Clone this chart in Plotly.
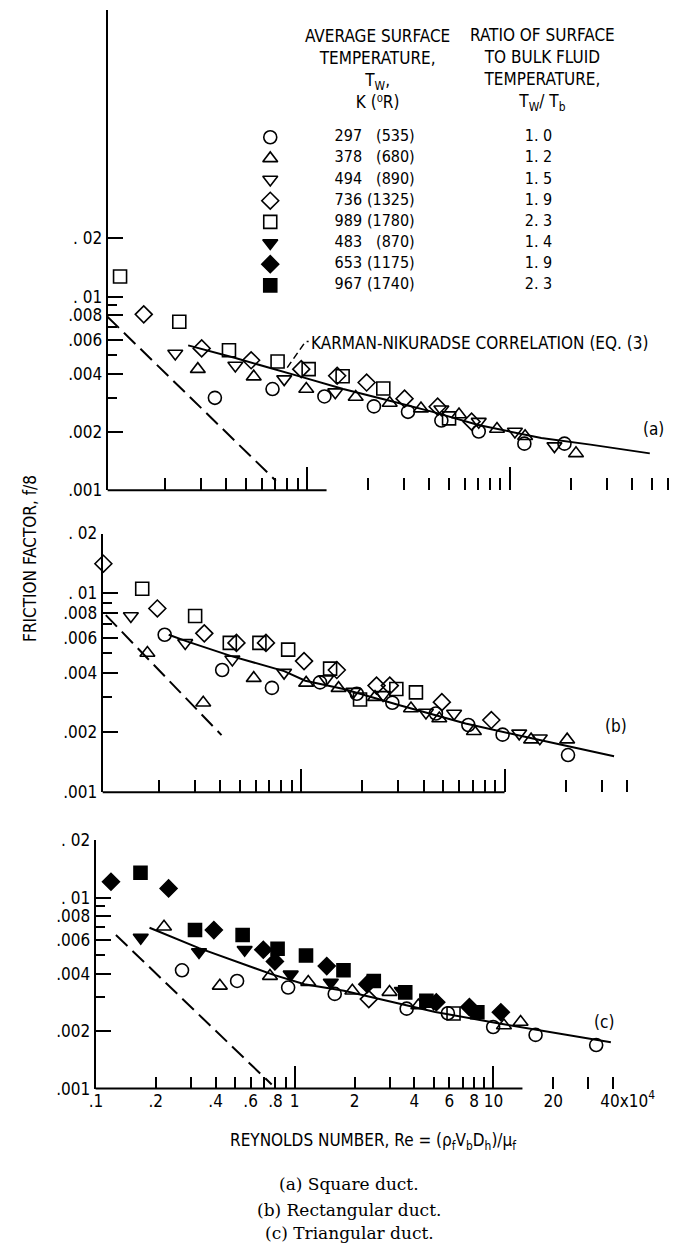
import math
import plotly.graph_objects as go

W, H = 677, 1257
SANS = "Liberation Sans Narrow, DejaVu Sans Condensed, Roboto Condensed, Arial Narrow, sans-serif"
SERIF = "DejaVu Serif, Liberation Serif, serif"
FS = 17

# ---------------- legend table ----------------
temps_K = ["297", "378", "494", "736", "989", "483", "653", "967"]
temps_R = ["(535)", "(680)", "(890)", "(1325)", "(1780)", "(870)", "(1175)", "(1740)"]
ratios = ["1. 0", "1. 2", "1. 5", "1. 9", "2. 3", "1. 4", "1. 9", "2. 3"]
symbols = ["circle-open", "triangle-up-open", "triangle-down-open", "diamond-open",
           "square-open", "triangle-down", "diamond", "square"]

# ---------------- panel (a) square duct ----------------
a_x_297 = [0.352, 0.677, 1.22, 2.14, 3.15, 4.6, 7.03, 11.8, 18.6]
a_y_297 = [0.0030, 0.00333, 0.00305, 0.00271, 0.00254, 0.00229, 0.00201, 0.00174, 0.00174]
a_x_378 = [0.29, 0.547, 0.993, 1.74, 2.56, 3.65, 5.62, 8.65, 11.9, 21.2]
a_y_378 = [0.00422, 0.00386, 0.00333, 0.00303, 0.00282, 0.00264, 0.00246, 0.00207, 0.0019, 0.00155]
a_x_494 = [0.2245, 0.444, 0.773, 1.38, 4.6, 7.03, 10.6, 16.6]
a_y_494 = [0.00508, 0.00441, 0.00375, 0.00321, 0.00262, 0.00226, 0.00201, 0.00169]
a_x_736 = [0.157, 0.303, 0.531, 0.938, 1.41, 1.97, 3.03, 4.41, 6.48]
a_y_736 = [0.0081, 0.0054, 0.00469, 0.00422, 0.0039, 0.0036, 0.00297, 0.0027, 0.00226]
a_x_989 = [0.120, 0.235, 0.413, 0.717, 1.02, 1.50, 2.38, 5.02]
a_y_989 = [0.0127, 0.00741, 0.00528, 0.00462, 0.00422, 0.00388, 0.00335, 0.00235]
a_curve_x = [0.26, 0.44, 0.93, 1.51, 2.56, 4.17, 7.0, 14.3, 25, 49]
a_curve_y = [0.0056, 0.00483, 0.00386, 0.00333, 0.0029, 0.00254, 0.00217, 0.00186, 0.00172, 0.00155]
a_dash_x = [0.104, 0.703]
a_dash_y = [0.00787, 0.00112]
a_leader_x = [0.80, 0.986, 1.02]
a_leader_y = [0.0043, 0.00587, 0.00587]

# ---------------- panel (b) rectangular duct ----------------
b_x_297 = [0.214, 0.41, 0.72, 1.24, 1.88, 2.81, 4.6, 6.64, 9.78, 20.5]
b_y_297 = [0.0062, 0.00412, 0.00335, 0.00357, 0.00313, 0.00282, 0.00249, 0.00218, 0.00195, 0.00154]
b_x_378 = [0.176, 0.331, 0.586, 1.06, 1.53, 2.31, 3.47, 4.78, 7.07, 13.5, 20.3]
b_y_378 = [0.00502, 0.00282, 0.00375, 0.00355, 0.00334, 0.00301, 0.00264, 0.00235, 0.00203, 0.00184, 0.00184]
b_x_494 = [0.146, 0.27, 0.46, 0.826, 1.33, 1.81, 2.53, 4.11, 5.65, 11.8, 14.9]
b_y_494 = [0.0077, 0.00564, 0.00466, 0.0040, 0.00371, 0.00321, 0.00309, 0.00252, 0.00249, 0.00198, 0.00187]
b_x_736 = [0.107, 0.197, 0.335, 0.482, 0.673, 1.035, 1.50, 2.35, 2.73, 4.92, 8.61]
b_y_736 = [0.0141, 0.0084, 0.0063, 0.00564, 0.00564, 0.00457, 0.00412, 0.00344, 0.00344, 0.00284, 0.00231]
b_x_989 = [0.166, 0.302, 0.447, 0.625, 0.865, 1.39, 1.95, 2.94, 3.67]
b_y_989 = [0.01055, 0.0077, 0.00564, 0.00564, 0.00522, 0.00419, 0.00293, 0.00331, 0.00318]
b_curve_x = [0.224, 0.275, 0.455, 0.826, 1.05, 1.62, 3.05, 6.43, 13.6, 34.5]
b_curve_y = [0.0062, 0.00574, 0.00484, 0.00407, 0.00364, 0.00331, 0.00274, 0.00222, 0.00187, 0.00152]
b_dash_x = [0.110, 0.407]
b_dash_y = [0.00778, 0.00194]

# ---------------- panel (c) triangular duct ----------------
c_x_297 = [0.271, 0.513, 0.927, 1.59, 3.66, 5.9, 9.97, 16.3, 32.9]
c_y_297 = [0.00416, 0.00366, 0.00338, 0.00313, 0.00262, 0.00248, 0.0021, 0.00191, 0.00169]
c_x_378 = [0.22, 0.42, 0.751, 1.17, 1.95, 3.0, 4.19, 11.3, 13.7]
c_y_378 = [0.00703, 0.00345, 0.00388, 0.00361, 0.00325, 0.0032, 0.00272, 0.00214, 0.00223]
c_x_736 = [2.36]
c_y_736 = [0.00294]
c_x_989 = [6.3]
c_y_989 = [0.00247]
c_x_483 = [0.168, 0.33, 0.56, 0.955, 1.52, 3.46, 5.0]
c_y_483 = [0.00617, 0.00519, 0.00533, 0.00396, 0.00359, 0.00325, 0.0028]
c_x_653 = [0.119, 0.232, 0.392, 0.695, 0.795, 1.45, 2.32, 5.16, 7.57, 10.9]
c_y_653 = [0.0121, 0.01117, 0.00676, 0.00533, 0.00463, 0.00438, 0.00352, 0.00283, 0.00267, 0.00251]
c_x_967 = [0.1675, 0.315, 0.547, 0.82, 1.14, 1.76, 2.5, 3.6, 4.6, 8.3]
c_y_967 = [0.0135, 0.00676, 0.00637, 0.0054, 0.00497, 0.00416, 0.00366, 0.00319, 0.00288, 0.00251]
c_curve_x = [0.186, 0.33, 0.77, 1.12, 1.77, 3.4, 5.1, 10.7, 39]
c_curve_y = [0.00695, 0.00544, 0.00396, 0.00352, 0.00325, 0.00277, 0.00252, 0.00219, 0.00175]
c_dash_x = [0.126, 0.766]
c_dash_y = [0.00637, 0.00105]

# ---------------- axis ticks ----------------
y_tick_vals = [0.001, 0.002, 0.004, 0.006, 0.008, 0.01, 0.02]
y_tick_text = [".001", ".002", ".004", ".006", ".008", ". 01", ". 02"]
y_minor_vals = [0.003, 0.005, 0.007, 0.009]
x_major_vals = [1, 10]
x_minor_a = [0.2, 0.3, 0.4, 0.5, 0.6, 0.7, 0.8, 0.9, 2, 3, 4, 5, 6, 7, 8, 9, 20, 30, 40, 50, 60]
x_minor_b = [0.2, 0.3, 0.4, 0.5, 0.6, 0.7, 0.8, 0.9, 2, 3, 4, 5, 6, 7, 8, 9, 20, 30, 40]
x_label_vals_c = [0.1, 0.2, 0.4, 0.6, 0.8, 1, 2, 4, 6, 8, 10, 20, 40]
x_label_text_c = [".1", ".2", ".4", ".6", ".8", "1", "2", "4", "6", "8", "10", "20",
                  "&nbsp;&nbsp;&nbsp;&nbsp;&nbsp;&nbsp;40x10<sup>4</sup>"]
x_minor_c = [0.3, 0.5, 0.7, 0.9, 3, 5, 7, 9, 30]

# ---------------- layout geometry (pixels) ----------------
def fx(px):
    return px / W

def fy(py):
    return 1 - py / H

panels = {
    "a": dict(l=101.7, r=670, xr=[-0.982, 1.790], b=488, t=0, yr=[-3, -0.52]),
    "b": dict(l=96.7, r=670, xr=[-0.974, 1.813], b=795, t=532, yr=[-3, math.log10(0.02)]),
    "c": dict(l=89.5, r=670, xr=[-1.002, 1.889], b=1096, t=843.5, yr=[-3, math.log10(0.02)]),
}
baseline_end = {"a": 1.25, "b": 10.0, "c": 14.0}

fig = go.Figure()
series_style = dict(zip(["297", "378", "494", "736", "989", "483", "653", "967"], symbols))


def add_marks(ax, ay, xs, ys, key):
    fig.add_trace(go.Scatter(
        x=xs, y=ys, mode="markers", xaxis=ax, yaxis=ay, showlegend=False,
        marker=dict(symbol=series_style[key], size=13, color="black",
                    line=dict(color="black", width=1.6)),
        cliponaxis=False))


def add_line(ax, ay, xs, ys, dash="solid", width=2):
    fig.add_trace(go.Scatter(x=xs, y=ys, mode="lines", xaxis=ax, yaxis=ay, showlegend=False,
                             line=dict(color="black", width=width, dash=dash)))

# panel a
for xs, ys, k in [(a_x_297, a_y_297, "297"), (a_x_378, a_y_378, "378"), (a_x_494, a_y_494, "494"),
                  (a_x_736, a_y_736, "736"), (a_x_989, a_y_989, "989")]:
    add_marks("x", "y", xs, ys, k)
add_line("x", "y", a_curve_x, a_curve_y)
add_line("x", "y", a_dash_x, a_dash_y, dash="16px,7px")
add_line("x", "y", a_leader_x, a_leader_y, dash="7px,4px", width=1.5)

# panel b
for xs, ys, k in [(b_x_297, b_y_297, "297"), (b_x_378, b_y_378, "378"), (b_x_494, b_y_494, "494"),
                  (b_x_736, b_y_736, "736"), (b_x_989, b_y_989, "989")]:
    add_marks("x2", "y2", xs, ys, k)
add_line("x2", "y2", b_curve_x, b_curve_y)
add_line("x2", "y2", b_dash_x, b_dash_y, dash="16px,7px")

# panel c
for xs, ys, k in [(c_x_297, c_y_297, "297"), (c_x_378, c_y_378, "378"), (c_x_736, c_y_736, "736"),
                  (c_x_989, c_y_989, "989"), (c_x_483, c_y_483, "483"), (c_x_653, c_y_653, "653"),
                  (c_x_967, c_y_967, "967")]:
    add_marks("x3", "y3", xs, ys, k)
add_line("x3", "y3", c_curve_x, c_curve_y)
add_line("x3", "y3", c_dash_x, c_dash_y, dash="16px,7px")

# dummy traces so the overlay tick axes get drawn
for ox, oy in [("x4", "y"), ("x5", "y2"), ("x6", "y3")]:
    fig.add_trace(go.Scatter(x=[None], y=[None], xaxis=ox, yaxis=oy, showlegend=False))

# legend table (pixel axis covering the page)
row_y0, row_dy = 129.3, 21.5
row_y = [row_y0 + i * row_dy for i in range(len(temps_K))]
leg_marker_x, leg_K_x, leg_R_x, leg_ratio_x = 266, 331, 412, 537
LFS = 16
fig.add_trace(go.Scatter(
    x=[leg_marker_x] * len(symbols), y=row_y, mode="markers", xaxis="x7", yaxis="y7",
    showlegend=False,
    marker=dict(symbol=symbols, size=13, color="black", line=dict(color="black", width=1.6))))
fig.add_trace(go.Scatter(x=[leg_K_x] * len(temps_K), y=row_y, mode="text", text=temps_K,
                         textposition="middle right", xaxis="x7", yaxis="y7", showlegend=False,
                         textfont=dict(family=SANS, size=LFS, color="black")))
fig.add_trace(go.Scatter(x=[leg_R_x] * len(temps_R), y=row_y, mode="text", text=temps_R,
                         textposition="middle left", xaxis="x7", yaxis="y7", showlegend=False,
                         textfont=dict(family=SANS, size=LFS, color="black")))
fig.add_trace(go.Scatter(x=[leg_ratio_x] * len(ratios), y=row_y, mode="text", text=ratios,
                         textposition="middle center", xaxis="x7", yaxis="y7", showlegend=False,
                         textfont=dict(family=SANS, size=LFS, color="black")))

tickfont = dict(family=SANS, size=FS, color="black")
common_y = dict(type="log", showline=True, linecolor="black", linewidth=2, ticks="inside",
                ticklen=15, tickwidth=2, tickcolor="black", tickvals=y_tick_vals,
                ticktext=y_tick_text, tickfont=tickfont, showgrid=False, zeroline=False,
                minor=dict(tickvals=y_minor_vals, ticks="inside", ticklen=9, tickwidth=2,
                           tickcolor="black", showgrid=False))
common_x = dict(type="log", showline=False, ticks="inside", tickwidth=2, tickcolor="black",
                showgrid=False, zeroline=False, tickfont=tickfont)

lay = {}
names = [("a", "x", "y", "", x_minor_a), ("b", "x2", "y2", "2", x_minor_b), ("c", "x3", "y3", "3", x_minor_c)]
for p, xn, yn, suf, minor in names:
    g = panels[p]
    xdom = [fx(g["l"]), fx(g["r"])]
    ydom = [fy(g["b"]), fy(g["t"])]
    ya = dict(common_y, domain=ydom, range=g["yr"], anchor=xn)
    if p == "c":
        xa = dict(common_x, domain=xdom, range=g["xr"], anchor=yn, tickvals=x_label_vals_c,
                  ticktext=x_label_text_c, ticklen=12, showticklabels=True,
                  minor=dict(tickvals=minor, ticks="inside", ticklen=12, tickwidth=2,
                             tickcolor="black", showgrid=False))
    else:
        xa = dict(common_x, domain=xdom, range=g["xr"], anchor=yn, tickvals=minor,
                  ticklen=12, showticklabels=False)
    lay["xaxis" + suf] = xa
    lay["yaxis" + suf] = ya

# overlay axes for long ticks at 1 and 10
for suf, base, yn, p in [("4", "x", "y", "a"), ("5", "x2", "y2", "b"), ("6", "x3", "y3", "c")]:
    g = panels[p]
    lay["xaxis" + suf] = dict(common_x, domain=[fx(g["l"]), fx(g["r"])], range=g["xr"],
                              anchor=yn, overlaying=base, tickvals=x_major_vals, ticklen=23,
                              showticklabels=False)

lay["xaxis7"] = dict(domain=[0, 1], range=[0, W], visible=False, anchor="y7", fixedrange=True)
lay["yaxis7"] = dict(domain=[0, 1], range=[H, 0], visible=False, anchor="x7", fixedrange=True)

# partial baselines along the bottom of each panel
shapes = []
for p in ["a", "b", "c"]:
    g = panels[p]
    frac = (math.log10(baseline_end[p]) - g["xr"][0]) / (g["xr"][1] - g["xr"][0])
    xl = fx(g["l"])
    xr = xl + frac * (fx(g["r"]) - fx(g["l"]))
    shapes.append(dict(type="line", xref="paper", yref="paper", x0=xl, x1=xr,
                       y0=fy(g["b"]), y1=fy(g["b"]), line=dict(color="black", width=2)))


def ann(text, x, y, xanchor="center", size=FS, family=SANS, angle=0):
    return dict(text=text, x=fx(x), y=fy(y), xref="paper", yref="paper", showarrow=False,
                xanchor=xanchor, yanchor="middle", textangle=angle, align="center",
                font=dict(family=family, size=size, color="black"))

header_1 = "AVERAGE SURFACE<br>TEMPERATURE,<br>T<sub>W</sub>,<br>K (⁰R)"
header_2 = "RATIO OF SURFACE<br>TO BULK FLUID<br>TEMPERATURE,<br>T<sub>W</sub>/ T<sub>b</sub>"

annotations = [
    ann(header_1, 374, 60),
    ann(header_2, 541, 60),
    ann("KARMAN-NIKURADSE CORRELATION (EQ. (3)", 305, 338, xanchor="left"),
    ann("(a)", 653, 426),
    ann("(b)", 615, 728),
    ann("(c)", 603, 1028),
    ann("FRICTION FACTOR, f/8", 23, 557, angle=-90),
    ann("REYNOLDS NUMBER, Re = (ρ<sub>f</sub>V<sub>b</sub>D<sub>h</sub>)/μ<sub>f</sub>", 370, 1150),
    ann("(a) Square duct.", 346, 1193, family=SERIF, size=17),
    ann("(b) Rectangular duct.", 346, 1219, family=SERIF, size=17),
    ann("(c) Triangular duct.", 346, 1243, family=SERIF, size=17),
]

fig.update_layout(width=W, height=H, margin=dict(l=0, r=0, t=0, b=0, pad=0),
                  paper_bgcolor="white", plot_bgcolor="rgba(0,0,0,0)", showlegend=False,
                  shapes=shapes, annotations=annotations, **lay)

fig.write_html("out.html")
